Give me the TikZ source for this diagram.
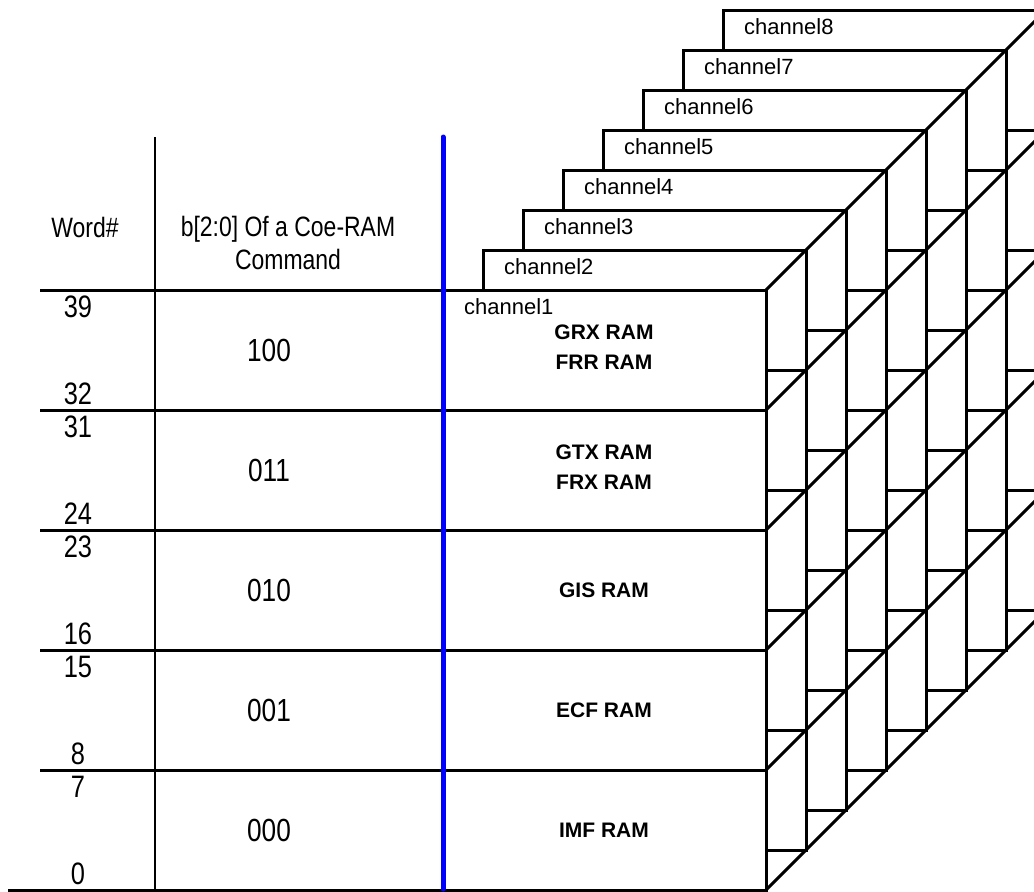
\documentclass[tikz,border=0pt]{standalone}
\usepackage{fontspec}
\setmainfont{Liberation Sans}
\newfontfamily\narrowfont[FakeStretch=0.82]{Liberation Sans}
\begin{document}
\begin{tikzpicture}[x=1pt, y=-1pt,
  edge/.style={line width=3pt},
  sheet/.style={edge, fill=white},
  hdr/.style={font=\narrowfont\fontsize{28}{33}\selectfont, align=center},
  num/.style={font=\narrowfont\fontsize{31}{33}\selectfont, inner sep=0pt},
  code/.style={font=\narrowfont\fontsize{32}{34}\selectfont},
  chan/.style={font=\fontsize{22}{24}\selectfont, anchor=west, inner sep=0pt},
  ram/.style={font=\bfseries\fontsize{21}{30}\selectfont, align=center}
]
\useasboundingbox (0,0) rectangle (1034,892);
\clip (0,0) rectangle (1034,892);

% Channel sheets, back to front
\foreach \k in {7,...,0} {
  \pgfmathsetmacro{\o}{40*\k}
  \draw[sheet] (443+\o,290-\o) rectangle (766+\o,890-\o);
  \foreach \r in {1,...,4}
    \draw[edge] (443+\o,290-\o+120*\r) -- (766+\o,290-\o+120*\r);
}

% Depth edges through the channel corners
\foreach \r in {0,...,5}
  \draw[edge] (766,290+120*\r) -- ++(320,-320);

% Channel labels
\foreach \k in {1,...,8}
  \node[chan] (ch\k) at ({424+40*\k},{347-40*\k}) {channel\k};

% Word table
\foreach \r in {0,...,4}
  \draw[edge] (40,290+120*\r) -- (443,290+120*\r);
\draw[edge] (8,890) -- (766,890);
\draw[line width=1.7pt] (155,137) -- (155,890);
\draw[blue, line width=5pt, line cap=round] (443,137) -- (443,889);

\node[hdr] (word) at (85,227) {Word\#};
\node[hdr] (cmd) at (288,243) {b[2:0] Of a Coe-RAM\\Command};

\foreach \hi/\lo/\c [count=\r from 0] in {39/32/100, 31/24/011, 23/16/010, 15/8/001, 7/0/000} {
  \node[num] (hi\r) at (78,307+120*\r) {\hi};
  \node[num] (lo\r) at (78,394+120*\r) {\lo};
  \node[code] (code\r) at (269,350+120*\r) {\c};
}

% RAM blocks of channel1
\node[ram] (grx) at (604,347) {GRX RAM\\FRR RAM};
\node[ram] (gtx) at (604,467) {GTX RAM\\FRX RAM};
\node[ram] (gis) at (604,590) {GIS RAM};
\node[ram] (ecf) at (604,710) {ECF RAM};
\node[ram] (imf) at (604,830) {IMF RAM};

\end{tikzpicture}
\end{document}
